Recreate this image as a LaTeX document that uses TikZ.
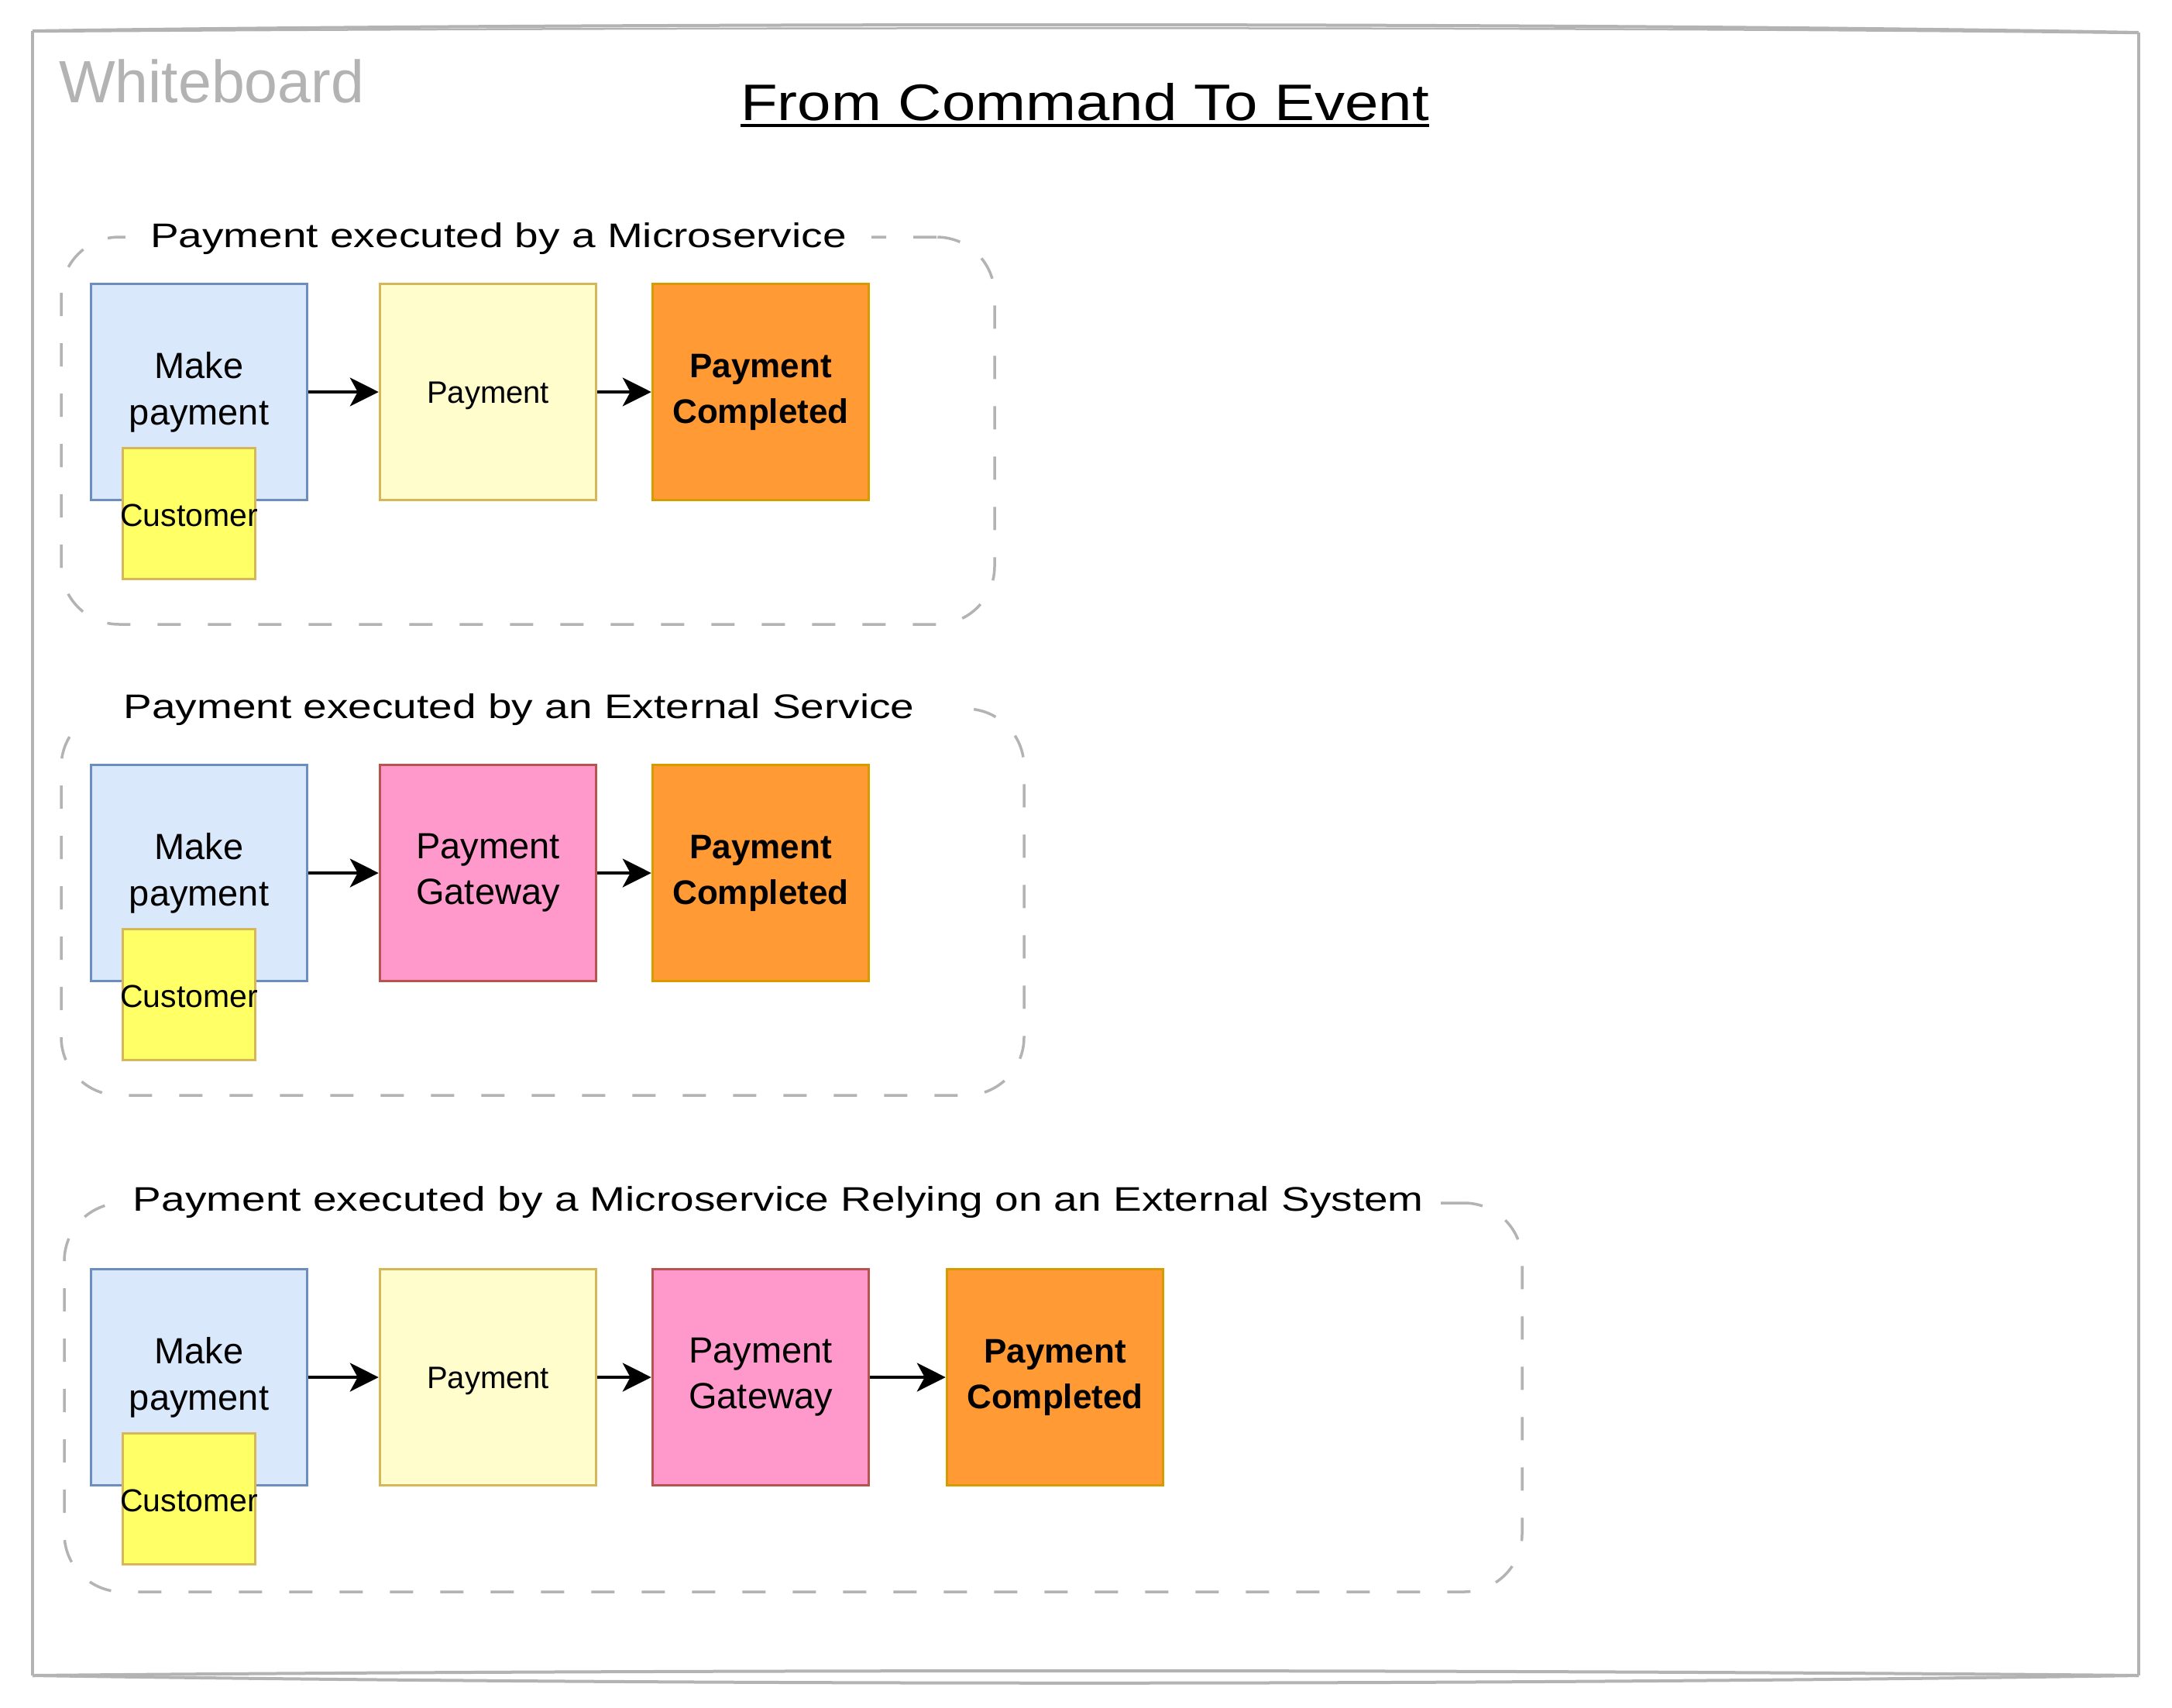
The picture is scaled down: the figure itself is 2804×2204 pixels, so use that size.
\documentclass[tikz,border=0pt]{standalone}
\usepackage{fontspec}
\setmainfont{Liberation Sans}
\usepackage{graphicx}
\usetikzlibrary{arrows.meta,calc}
\definecolor{wbgray}{HTML}{B3B3B3}
\definecolor{cmdfill}{HTML}{DAE8FC}
\definecolor{cmdline}{HTML}{6C8EBF}
\definecolor{aggfill}{HTML}{FFFDCC}
\definecolor{yline}{HTML}{D6B656}
\definecolor{evfill}{HTML}{FF9A35}
\definecolor{evline}{HTML}{D79B00}
\definecolor{extfill}{HTML}{FF99CC}
\definecolor{extline}{HTML}{B85450}
\definecolor{actfill}{HTML}{FFFF66}
\newcommand\vsq[2]{\scalebox{1}[#1]{#2}}
\newcommand\overtext[1]{\makebox[0pt]{#1}}
\begin{document}
\begin{tikzpicture}[x=1pt,y=-1pt,
  card/.style={draw, line width=3.5pt, minimum width=279pt, minimum height=279pt, inner sep=0pt, align=center},
  cmd/.style={card, fill=cmdfill, draw=cmdline, font=\fontsize{47}{60}\selectfont},
  agg/.style={card, fill=aggfill, draw=yline, font=\fontsize{40}{48}\selectfont, text height=28pt, text depth=0pt},
  ext/.style={card, fill=extfill, draw=extline, font=\fontsize{47}{59}\selectfont},
  evt/.style={card, fill=evfill, draw=evline, font=\bfseries\fontsize{44}{59}\selectfont},
  actor/.style={draw=yline, fill=actfill, line width=3.5pt, minimum width=171pt, minimum height=169pt, inner sep=0pt, text height=33pt, text depth=0pt, font=\fontsize{41}{48}\selectfont},
  group/.style={draw=wbgray, line width=3.5pt, dash pattern=on 30pt off 35pt, rounded corners=75pt, inner sep=0pt},
  gtitle/.style={fill=white, inner ysep=2pt, anchor=base, font=\fontsize{55}{66}\selectfont},
  arr/.style={line width=3.5pt, -{Stealth[length=37pt,width=37pt,inset=10pt]}},
  frame/.style={draw=wbgray, line width=4pt}]

\useasboundingbox (0,0) rectangle (2804,2204);
\fill[white] (0,0) rectangle (2804,2204);

% whiteboard frame (sketchy)
\draw[frame] (42,40) -- (42,2163);
\draw[frame] (2761,42) -- (2761,2163);
\draw[frame] (42,40) .. controls (700,30) and (2000,28) .. (2761,42);
\draw[frame, line width=2.5pt] (42,41) .. controls (800,35) and (2100,34) .. (2761,43);
\draw[frame] (42,2163) .. controls (900,2155) and (1900,2155) .. (2761,2163);
\draw[frame] (42,2163) .. controls (900,2176) and (1900,2176) .. (2761,2163);

\node[anchor=base west, inner sep=0pt, text=wbgray, font=\fontsize{77}{90}\selectfont] (wblabel) at (76,132) {Whiteboard};

\node[anchor=base, inner sep=0pt, font=\fontsize{78}{90}\selectfont] (title) at (1400.5,155) {\vsq{0.85}{From Command To Event}};
\draw[line width=4pt] ($(title.base west)+(0,7)$) -- ($(title.base east)+(0,7)$);

% groups
\node[group, minimum width=1205pt, minimum height=500pt] (g1) at (681.5,556) {};
\node[group, minimum width=1243pt, minimum height=499pt] (g2) at (700.5,1164.5) {};
\node[group, minimum width=1882pt, minimum height=502pt] (g3) at (1024,1804) {};

\node[gtitle, inner xsep=32pt] (t1) at (643.5,319) {\vsq{0.8}{Payment executed by a Microservice}};
\node[gtitle, inner xsep=71pt] (t2) at (670,927) {\vsq{0.8}{Payment executed by an External Service}};
\node[gtitle, inner xsep=8pt] (t3) at (1005,1563) {\vsq{0.8}{Payment executed by a Microservice Relying on an External System}};

% group 1
\node[cmd] (mp1) at (257,506) {Make\\payment};
\node[agg] (pay1) at (630,506) {Payment};
\node[evt] (done1) at (982,506) {Payment\\Completed};
\node[actor] (cu1) at (244,663) {\overtext{Customer}};
\draw[arr] (mp1) -- (pay1);
\draw[arr] (pay1) -- (done1);

% group 2
\node[cmd] (mp2) at (257,1127) {Make\\payment};
\node[ext] (gw2) at (630,1127) {Payment\\Gateway};
\node[evt] (done2) at (982,1127) {Payment\\Completed};
\node[actor] (cu2) at (244,1284) {\overtext{Customer}};
\draw[arr] (mp2) -- (gw2);
\draw[arr] (gw2) -- (done2);

% group 3
\node[cmd] (mp3) at (257,1778) {Make\\payment};
\node[agg] (pay3) at (630,1778) {Payment};
\node[ext] (gw3) at (982,1778) {Payment\\Gateway};
\node[evt] (done3) at (1362,1778) {Payment\\Completed};
\node[actor] (cu3) at (244,1935) {\overtext{Customer}};
\draw[arr] (mp3) -- (pay3);
\draw[arr] (pay3) -- (gw3);
\draw[arr] (gw3) -- (done3);

\end{tikzpicture}
\end{document}
